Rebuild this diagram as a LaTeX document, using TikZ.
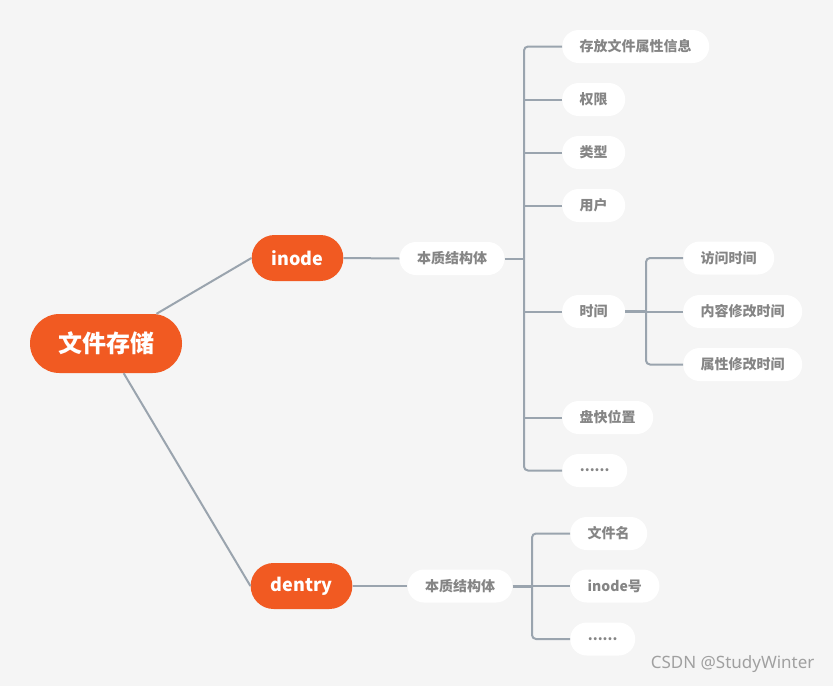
\documentclass[tikz,border=0pt]{standalone}
\usepackage{fontspec}
\setmainfont{Noto Sans CJK SC}
\newfontfamily\wmfont{Noto Sans}
\definecolor{bg}{HTML}{F5F5F5}
\definecolor{org}{HTML}{F15A22}
\definecolor{ln}{HTML}{9AA4AE}
\definecolor{tx}{HTML}{858585}
\definecolor{wm}{HTML}{A0A0A0}
\begin{document}
\begin{tikzpicture}[x=1pt,y=-1pt,
  mainbox/.style={fill=org, text=white, font=\bfseries\fontsize{18}{18}\selectfont, minimum height=46, rounded corners=23, inner xsep=20, inner ysep=0},
  rootbox/.style={fill=org, text=white, font=\bfseries\fontsize{24}{24}\selectfont, minimum height=59, minimum width=152, rounded corners=29.5, inner sep=0},
  leaf/.style={fill=white, text=tx, font=\bfseries\fontsize{14}{14}\selectfont, minimum height=33, rounded corners=16.5, inner xsep=17.5, inner ysep=0},
  conn/.style={draw=ln, line width=2},
  ]
\fill[bg] (0,0) rectangle (833,686);
\useasboundingbox (0,0) rectangle (833,686);

\node[rootbox] (root) at (106,343.5) {文件存储};
\node[mainbox, minimum width=91] (inode) at (297.5,258) {inode};
\node[mainbox, minimum width=99] (dentry) at (301.5,586) {dentry};

\node[leaf] (b1) at (452,258.5) {本质结构体};
\node[leaf, anchor=west] (t1) at (562,46.5) {存放文件属性信息};
\node[leaf, anchor=west] (t2) at (562,99.5) {权限};
\node[leaf, anchor=west] (t3) at (562,152.5) {类型};
\node[leaf, anchor=west] (t4) at (562,205.5) {用户};
\node[leaf, anchor=west] (t5) at (562,311.5) {时间};
\node[leaf, anchor=west] (t6) at (562,417.5) {盘快位置};
\node[leaf, anchor=west, minimum width=65] (t7) at (562,470.5) {......};

\node[leaf, anchor=west] (s1) at (683,258) {访问时间};
\node[leaf, anchor=west] (s2) at (683,311.5) {内容修改时间};
\node[leaf, anchor=west] (s3) at (683,364.5) {属性修改时间};

\node[leaf] (b2) at (460,586) {本质结构体};
\node[leaf, anchor=west] (d1) at (570,533.5) {文件名};
\node[leaf, anchor=west] (d2) at (570,586) {inode号};
\node[leaf, anchor=west, minimum width=65] (d3) at (570,639) {......};

\coordinate (v1) at (524,258.5);
\coordinate (v2) at (646,311.5);
\coordinate (v3) at (532,586);

\draw[conn] (root) -- (inode.west);
\draw[conn] (root) -- (dentry.west);
\draw[conn] (inode.east) -- (b1.west);
\draw[conn] (dentry.east) -- (b2.west);

\draw[conn] (b1.east) -- (v1);
\draw[conn, rounded corners=4] (t1.west) -| (v1) |- (t7.west);
\foreach \n in {t2,t3,t4,t5,t6} \draw[conn] (\n.west -| v1) -- (\n.west);

\draw[conn, line width=3] (t5.east) -- (v2);
\draw[conn, rounded corners=4] (s1.west) -| (v2) |- (s3.west);
\draw[conn] (s2.west -| v2) -- (s2.west);

\draw[conn, line width=3] (b2.east) -- (v3);
\draw[conn, rounded corners=4] (d1.west) -| (v3) |- (d3.west);
\draw[conn] (d2.west -| v3) -- (d2.west);

\node[text=wm, font=\wmfont\fontsize{17}{17}\selectfont, anchor=east] (wmk) at (818,664) {CSDN @StudyWinter};
\end{tikzpicture}
\end{document}
